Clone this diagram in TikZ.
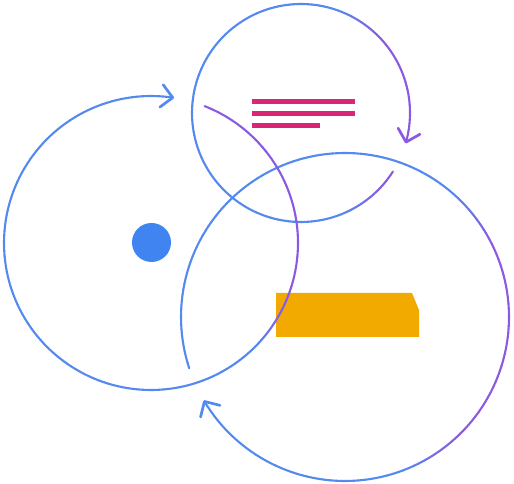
\documentclass[tikz,border=0pt]{standalone}
\usetikzlibrary{calc}
\definecolor{blu}{RGB}{84,138,240}
\definecolor{purp}{RGB}{140,90,226}
\definecolor{dotblue}{RGB}{64,132,242}
\definecolor{pinkbar}{RGB}{218,36,118}
\definecolor{gold}{RGB}{242,170,0}
\tikzset{
  ring/.style={line width=2.1pt, line cap=round},
  chevron/.style={line width=2.7pt, line cap=round, line join=round},
  bar/.style={line width=5pt, draw=pinkbar},
}
% #1,#2 centre; #3 radius; #4 start angle; #5 end angle; #6 purple direction; #7,#8 thresholds
\newcommand\GArc[8]{%
  \pgfmathsetmacro\gaN{int(ceil(abs(#5-(#4))/2))}%
  \pgfmathsetmacro\gaStep{((#5)-(#4))/\gaN}%
  \foreach \i in {1,...,\gaN}{%
    \pgfmathsetmacro\aA{#4+(\i-1)*\gaStep}%
    \pgfmathsetmacro\aB{#4+\i*\gaStep}%
    \pgfmathsetmacro\aM{(\aA+\aB)/2}%
    \pgfmathsetmacro\pp{100*min(1,max(0,(cos(\aM-(#6))-(#7))/((#8)-(#7))))}%
    \draw[ring, draw=purp!\pp!blu] ([shift={(\aA:#3)}]#1,#2) arc[start angle=\aA, end angle=\aB, radius=#3];
  }%
}
\newcommand\Chev[5]{% centre x,y ; radius ; end angle ; colour
  \coordinate (tip) at ([shift={(#4:#3)}]#1,#2);
  \draw[chevron, draw=#5] ([shift={(#4+135:16)}]tip) -- (tip) -- ([shift={(#4+45:16)}]tip);
}
\begin{document}
\begin{tikzpicture}[x=1pt,y=1pt]
\useasboundingbox (0,0) rectangle (514,484);
% orange block
\fill[gold] (276,147) -- (276,191) -- (412,191) -- (419,174) -- (419,147) -- cycle;
% pink bars
\draw[bar] (252,382) -- (355,382);
\draw[bar] (252,370) -- (355,370);
\draw[bar] (252,358) -- (320,358);
% blue dot
\coordinate (dot) at (151.5,241.5);
\fill[dotblue] (dot) circle[radius=19.5];
% big circle
\GArc{345}{167}{164}{198.2}{-149}{-10}{0.5}{0.8}
\Chev{345}{167}{164}{-149}{blu}
% top circle
\GArc{301}{371}{109}{-32.5}{-375.5}{0}{0.35}{0.75}
\Chev{301}{371}{109}{-375.5}{purp}
% left circle
\GArc{151}{241}{147}{68.6}{-278.5}{20}{0.45}{0.65}
\Chev{151}{241}{147}{-278.5}{blu}
\end{tikzpicture}
\end{document}
